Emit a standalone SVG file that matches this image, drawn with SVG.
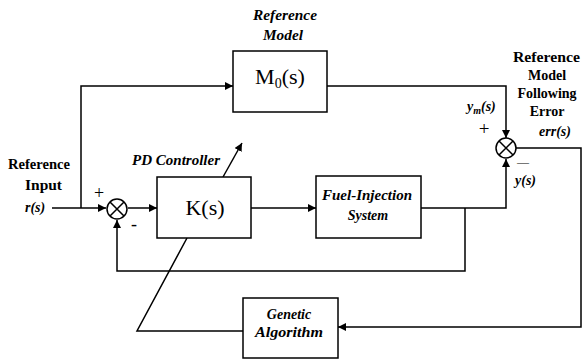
<svg xmlns="http://www.w3.org/2000/svg" width="582" height="361" viewBox="0 0 582 361">
<style>
.box{fill:#fff;stroke:#000;stroke-width:1.5}
.ln{fill:none;stroke:#000;stroke-width:1.5}
.t{font-family:'Liberation Serif','DejaVu Serif',serif;fill:#000}
.b{font-weight:bold;font-size:14px}
.bi{font-weight:bold;font-style:italic;font-size:14px}
.big{font-size:22px}
</style>
<defs>
<marker id="ah" viewBox="0 0 10 10" refX="10" refY="5" markerWidth="8" markerHeight="8" markerUnits="userSpaceOnUse" orient="auto">
<path d="M0,0 L10,5 L0,10 z" fill="#000"/>
</marker>
</defs>
<g id="connectors">
<path class="ln" d="M52,208 H106" marker-end="url(#ah)"/>
<path class="ln" d="M81,208 V86 H233" marker-end="url(#ah)"/>
<path class="ln" d="M128,208 H157" marker-end="url(#ah)"/>
<path class="ln" d="M251,208 H316" marker-end="url(#ah)"/>
<path class="ln" d="M327,86 H506 V138" marker-end="url(#ah)"/>
<path class="ln" d="M421,208 H506 V159" marker-end="url(#ah)"/>
<path class="ln" d="M465,208 V271 H117 V220" marker-end="url(#ah)"/>
<path class="ln" d="M516,148 H581 V327 H338" marker-end="url(#ah)"/>
<path class="ln" d="M243,331 H137 L187,238"/>
<path class="ln" d="M223,177 L242,143" marker-end="url(#ah)"/>
</g>
<g id="ref-model">
<rect class="box" x="233" y="51" width="94" height="61"/>
<text class="t big" x="280" y="84" text-anchor="middle">M<tspan font-size="14" dy="4">0</tspan><tspan dy="-4">(s)</tspan></text>
<text class="t bi" x="253" y="20" textLength="64" lengthAdjust="spacingAndGlyphs">Reference</text>
<text class="t bi" x="263" y="40" textLength="40" lengthAdjust="spacingAndGlyphs">Model</text>
</g>
<g id="controller">
<rect class="box" x="157" y="177" width="94" height="61"/>
<text class="t big" x="205" y="215" text-anchor="middle">K(s)</text>
<text class="t bi" x="132" y="165" textLength="88" lengthAdjust="spacingAndGlyphs">PD Controller</text>
</g>
<g id="fuel-injection">
<rect class="box" x="316" y="176" width="105" height="62"/>
<text class="t bi" x="322" y="200" textLength="90" lengthAdjust="spacingAndGlyphs">Fuel-Injection</text>
<text class="t bi" x="368" y="220" text-anchor="middle">System</text>
</g>
<g id="genetic-algorithm">
<rect class="box" x="243" y="298" width="95" height="60"/>
<text class="t bi" x="289" y="319" text-anchor="middle">Genetic</text>
<text class="t bi" x="255" y="337" textLength="68" lengthAdjust="spacingAndGlyphs">Algorithm</text>
</g>
<g id="sum1">
<circle class="ln" cx="117" cy="209" r="10" fill="#fff"/>
<path class="ln" d="M110,202 L124,216 M124,202 L110,216"/>
<text class="t" x="99" y="199" font-size="18" text-anchor="middle">+</text>
<text class="t" x="134" y="230" font-size="18" text-anchor="middle">-</text>
</g>
<g id="sum2">
<circle class="ln" cx="506" cy="148" r="10" fill="#fff"/>
<path class="ln" d="M499,141 L513,155 M513,141 L499,155"/>
<text class="t" x="484" y="135" font-size="19" text-anchor="middle">+</text>
<text class="t" x="523" y="166" font-size="12" text-anchor="middle">—</text>
<text class="t bi" x="515" y="185">y(s)</text>
<text class="t bi" x="467" y="111">y<tspan font-size="10" dy="3">m</tspan><tspan dy="-3">(s)</tspan></text>
</g>
<g id="labels">
<text class="t b" x="8" y="169" textLength="62" lengthAdjust="spacingAndGlyphs">Reference</text>
<text class="t b" x="25" y="190" textLength="37" lengthAdjust="spacingAndGlyphs">Input</text>
<text class="t bi" x="25" y="212">r(s)</text>
<text class="t b" x="513" y="62" textLength="67" lengthAdjust="spacingAndGlyphs">Reference</text>
<text class="t b" x="547" y="80" text-anchor="middle">Model</text>
<text class="t b" x="547" y="98" text-anchor="middle">Following</text>
<text class="t b" x="547" y="116" text-anchor="middle">Error</text>
<text class="t bi" x="555" y="136" text-anchor="middle">err(s)</text>
</g>
</svg>
